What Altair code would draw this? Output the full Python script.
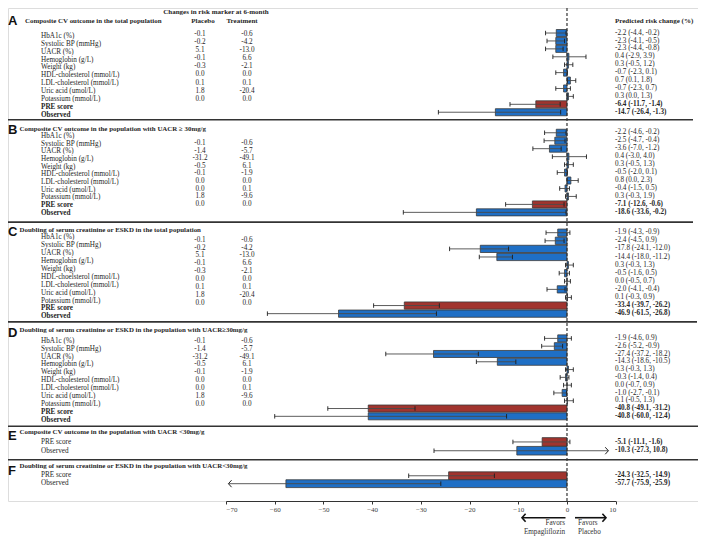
import altair as alt
import pandas as pd

# ---------------- data ----------------
sections = ["A", "B", "C", "D", "E", "F"]
titles = [
    "Composite CV outcome in  the total population",
    "Composite CV outcome in the population with UACR \u2265 30mg/g",
    "Doubling of serum creatinine or ESKD in the total population",
    "Doubling of serum creatinine or ESKD in the population with UACR\u226530mg/g",
    "Composite CV outcome in the population with UACR <30mg/g",
    "Doubling of serum creatinine or ESKD in the population with UACR<30mg/g",
]

labels_A = ["HbA1c (%)", "Systolic BP (mmHg)", "UACR (%)", " Hemoglobin (g/L)", "Weight (kg)",
            "HDL-cholesterol (mmol/L)", "LDL-cholesterol (mmol/L)", "Uric acid (umol/L)",
            "Potassium (mmol/L)", "PRE score", "Observed"]
labels_B = ["HbA1c (%)", "Systolic BP (mmHg)", "UACR (%)", "Hemoglobin (g/L)", "Weight (kg)",
            "HDL-cholesterol (mmol/L)", "LDL-cholesterol (mmol/L)", "Uric acid (umol/L)",
            "Potassium (mmol/L)", "PRE score", "Observed"]
labels_C = ["HbA1c (%)", "Systolic BP (mmHg)", "UACR (%)", "Hemoglobin (g/L)", "Weight (kg)",
            "HDL-choelsterol (mmol/L)", "LDL-cholesterol (mmol/L)", "Uric acid (umol/L)",
            "Potassium (mmol/L)", "PRE score", "Observed"]
labels_D = labels_B
labels_E = ["PRE score", "Observed"]
labels_F = ["PRE score", "Observed"]

placebo_A = ["-0.1", "-0.2", "5.1", "-0.1", "-0.3", "0.0", "0.1", "1.8", "0.0"]
treatment_A = ["-0.6", "-4.2", "-13.0", "6.6", "-2.1", "0.0", "0.1", "-20.4", "0.0"]
placebo_B = ["-0.1", "-1.4", "-31.2", "-0.5", "-0.1", "0.0", "0.0", "1.8", "0.0"]
treatment_B = ["-0.6", "-5.7", "-49.1", "6.1", "-1.9", "0.0", "0.1", "-9.6", "0.0"]
placebo_C = ["-0.1", "-0.2", "5.1", "-0.1", "-0.3", "0.0", "0.1", "1.8", "0.0"]
treatment_C = ["-0.6", "-4.2", "-13.0", "6.6", "-2.1", "0.0", "0.1", "-20.4", "0.0"]
placebo_D = ["-0.1", "-1.4", "-31.2", "-0.5", "-0.1", "0.0", "0.0", "1.8", "0.0"]
treatment_D = ["-0.6", "-5.7", "-49.1", "6.1", "-1.9", "0.0", "0.1", "-9.6", "0.0"]

est_A = [-2.2, -2.3, -2.3, 0.4, 0.3, -0.7, 0.7, -0.7, 0.3, -6.4, -14.7]
lo_A = [-4.4, -4.1, -4.4, -2.9, -0.5, -2.3, 0.1, -2.3, 0.0, -11.7, -26.4]
hi_A = [-0.2, -0.5, -0.8, 3.9, 1.2, 0.1, 1.8, 0.7, 1.3, -1.4, -1.3]
ci_A = ["-2.2 (-4.4, -0.2)", "-2.3 (-4.1, -0.5)", "-2.3 (-4.4, -0.8)", "0.4 (-2.9, 3.9)",
        "0.3 (-0.5, 1.2)", "-0.7 (-2.3, 0.1)", "0.7 (0.1, 1.8)", "-0.7 (-2.3, 0.7)",
        "0.3 (0.0, 1.3)", "-6.4 (-11.7, -1.4)", "-14.7 (-26.4, -1.3)"]

est_B = [-2.2, -2.5, -3.6, 0.4, 0.3, -0.5, 0.8, -0.4, 0.3, -7.1, -18.6]
lo_B = [-4.6, -4.7, -7.0, -3.0, -0.5, -2.0, 0.0, -1.5, -0.3, -12.6, -33.6]
hi_B = [-0.2, -0.4, -1.2, 4.0, 1.3, 0.1, 2.3, 0.5, 1.9, -0.6, -0.2]
ci_B = ["-2.2 (-4.6, -0.2)", "-2.5 (-4.7, -0.4)", "-3.6 (-7.0, -1.2)", "0.4 (-3.0, 4.0)",
        "0.3 (-0.5, 1.3)", "-0.5 (-2.0, 0.1)", "0.8 (0.0, 2.3)", "-0.4 (-1.5, 0.5)",
        "0.3 (-0.3, 1.9)", "-7.1 (-12.6, -0.6)", "-18.6 (-33.6, -0.2)"]

est_C = [-1.9, -2.4, -17.8, -14.4, 0.3, -0.5, 0.0, -2.0, 0.1, -33.4, -46.9]
lo_C = [-4.3, -4.5, -24.1, -18.0, -0.3, -1.6, -0.5, -4.1, -0.3, -39.7, -61.5]
hi_C = [0.6, -0.6, -12.0, -11.2, 1.3, 0.5, 0.7, -0.4, 0.9, -26.2, -26.8]
ci_C = ["-1.9 (-4.3, -0.9)", "-2.4 (-4.5, 0.9)", "-17.8 (-24.1, -12.0)", "-14.4 (-18.0, -11.2)",
        "0.3 (-0.3, 1.3)", "-0.5 (-1.6, 0.5)", "0.0 (-0.5, 0.7)", "-2.0 (-4.1, -0.4)",
        "0.1 (-0.3, 0.9)", "-33.4 (-39.7, -26.2)", "-46.9 (-61.5, -26.8)"]

est_D = [-1.9, -2.6, -27.4, -14.3, 0.3, -0.3, 0.0, -1.0, 0.1, -40.8, -40.8]
lo_D = [-4.6, -5.2, -37.2, -18.6, -0.3, -1.4, -0.7, -2.7, -0.5, -49.1, -60.0]
hi_D = [0.9, -0.9, -18.2, -10.5, 1.3, 0.4, 0.9, -0.1, 1.3, -31.2, -12.4]
ci_D = ["-1.9 (-4.6, 0.9)", "-2.6 (-5.2, -0.9)", "-27.4 (-37.2, -18.2)", "-14.3 (-18.6, -10.5)",
        "0.3 (-0.3, 1.3)", "-0.3 (-1.4, 0.4)", "0.0 (-0.7, 0.9)", "-1.0 (-2.7, -0.1)",
        "0.1 (-0.5, 1.3)", "-40.8 (-49.1, -31.2)", "-40.8 (-60.0, -12.4)"]

est_E = [-5.1, -10.3]
lo_E = [-11.1, -27.3]
hi_E = [0.6, 8.5]          # observed interval runs off the axis (arrow)
ci_E = ["-5.1 (-11.1, -1.6)", "-10.3 (-27.3, 10.8)"]

est_F = [-24.3, -57.7]
lo_F = [-32.5, -69.5]      # observed interval runs off the axis (arrow)
hi_F = [-14.9, -25.9]
ci_F = ["-24.3 (-32.5, -14.9)", "-57.7 (-75.9, -25.9)"]

arrows = {("E", 1): "right", ("F", 1): "left"}
tick_values = [-70, -60, -50, -40, -30, -20, -10, 0, 10]

sec = {
    "A": dict(labels=labels_A, pl=placebo_A, tr=treatment_A, est=est_A, lo=lo_A, hi=hi_A, ci=ci_A),
    "B": dict(labels=labels_B, pl=placebo_B, tr=treatment_B, est=est_B, lo=lo_B, hi=hi_B, ci=ci_B),
    "C": dict(labels=labels_C, pl=placebo_C, tr=treatment_C, est=est_C, lo=lo_C, hi=hi_C, ci=ci_C),
    "D": dict(labels=labels_D, pl=placebo_D, tr=treatment_D, est=est_D, lo=lo_D, hi=hi_D, ci=ci_D),
    "E": dict(labels=labels_E, pl=[], tr=[], est=est_E, lo=lo_E, hi=hi_E, ci=ci_E),
    "F": dict(labels=labels_F, pl=[], tr=[], est=est_F, lo=lo_F, hi=hi_F, ci=ci_F),
}

# ---------------- layout (vertical positions in figure units) ----------------
BAR_ROW0 = {"A": 28.6, "B": 130.6, "C": 232.8, "D": 340.9, "E": 446.8, "F": 481.4}
BAR_STEP = {"A": 8.1, "B": 8.14, "C": 8.28, "D": 7.97, "E": 9.0, "F": 8.1}
BAR_HALF = {"A": 3.6, "B": 3.6, "C": 3.7, "D": 3.6, "E": 4.4, "F": 4.0}
LAB_ROW0 = {"A": 31.7, "B": 134.0, "C": 237.7, "D": 343.3, "E": 447.3, "F": 480.7}
LAB_STEP = {"A": 8.03, "B": 7.83, "C": 8.06, "D": 8.1, "E": 8.7, "F": 8.6}
VAL_ROW0 = {"A": 30.0, "B": 141.0, "C": 240.0, "D": 343.3}
VAL_STEP = {"A": 8.2, "B": 7.8, "C": 8.04, "D": 8.1}
TITLE_Y = {"A": 16.0, "B": 127.0, "C": 230.0, "D": 332.7, "E": 436.7, "F": 471.0}
LETTER_Y = {"A": 16.5, "B": 128.0, "C": 232.0, "D": 335.0, "E": 440.5, "F": 476.5}
SEPARATORS = [(117.3, 685), (222.0, 685), (324.0, 689), (430.7, 690), (465.0, 690)]

W, H, PB = 690, 493, 35
SERIF = "Liberation Serif"
SANS = "Liberation Sans"
TXT = "#262626"
BLUE = "#1f6fc5"
RED = "#a1342e"

xs = alt.Scale(domain=[-70, 10], range=[218, 607.7], nice=False, zero=False)
ys = alt.Scale(domain=[3, 543], range=[0, 528], nice=False, zero=False)
xaxis = alt.Axis(values=tick_values, grid=False, title=None, domainColor="#333", tickColor="#333",
                 tickSize=3, labelFont=SERIF, labelFontSize=7, labelColor="#444", labelPadding=1)


def X(f):
    return alt.X(f, type="quantitative", scale=xs, axis=xaxis)


def Y(f):
    return alt.Y(f, type="quantitative", scale=ys, axis=None)


# ---------------- tables ----------------
rows, labs, vals, caps, heads = [], [], [], [], []
for s in sections:
    d = sec[s]
    n = len(d["est"])
    for i in range(n):
        y = BAR_ROW0[s] + i * BAR_STEP[s]
        kind = "pre" if d["labels"][i] == "PRE score" else "obs"
        bold = s in ("E", "F") or i >= 9
        arrow = arrows.get((s, i), "")
        rows.append(dict(sec=s, est=d["est"][i], lo=d["lo"][i], hi=d["hi"][i], zero=0,
                         txt=d["ci"][i], kind=kind, y=y, y0=y - BAR_HALF[s], y1=y + BAR_HALF[s],
                         c0=y - 2.3, c1=y + 2.3, bold=bold, ty=y - 0.4))
        if arrow != "left":
            caps.append(dict(x=d["lo"][i], c0=y - 2.3, c1=y + 2.3))
        if arrow != "right":
            caps.append(dict(x=d["hi"][i], c0=y - 2.3, c1=y + 2.3))
        if arrow:
            heads.append(dict(x=d["hi"][i] if arrow == "right" else d["lo"][i], y=y, dir=arrow))
        labs.append(dict(txt=d["labels"][i], y=LAB_ROW0[s] + i * LAB_STEP[s],
                         bold=(s not in ("E", "F") and i >= 9)))
    for j, (p, t) in enumerate(zip(d["pl"], d["tr"])):
        vals.append(dict(p=p, t=t, y=VAL_ROW0[s] + j * VAL_STEP[s]))

df = pd.DataFrame(rows)
df_lab = pd.DataFrame(labs)
df_val = pd.DataFrame(vals)
df_cap = pd.DataFrame(caps)
df_head = pd.DataFrame(heads)

layers = []

# bars
layers.append(
    alt.Chart(df).mark_rect(stroke="#3a3a3a", strokeWidth=0.8).encode(
        x=X("est"), x2=alt.X2("zero:Q"), y=Y("y0"), y2=alt.Y2("y1:Q"),
        color=alt.Color("kind:N", scale=alt.Scale(domain=["obs", "pre"], range=[BLUE, RED]), legend=None),
    )
)
# whiskers
layers.append(
    alt.Chart(df).mark_rule(color="#4a4a4a", strokeWidth=0.9).encode(
        x=X("lo"), x2=alt.X2("hi:Q"), y=Y("y"))
)
layers.append(
    alt.Chart(df_cap).mark_rule(color="#1e1e1e", strokeWidth=0.9).encode(
        x=X("x"), y=Y("c0"), y2=alt.Y2("c1:Q"))
)
for direction, path in (("right", "M-0.9,-1L0,0L-0.9,1"), ("left", "M0.9,-1L0,0L0.9,1")):
    layers.append(
        alt.Chart(df_head).transform_filter(alt.datum.dir == direction)
        .mark_point(shape=path, filled=False, size=49, strokeWidth=1, color="#222", opacity=1)
        .encode(x=X("x"), y=Y("y"))
    )

# zero reference line
layers.append(
    alt.Chart(pd.DataFrame({"x": [0]})).mark_rule(color="#333", strokeWidth=1.2, strokeDash=[3, 2]).encode(
        x=X("x"), y=alt.value(0), y2=alt.value(H))
)

# separators
for ysep, x2 in SEPARATORS:
    layers.append(
        alt.Chart(pd.DataFrame({"y": [ysep]})).mark_rule(color="#333", strokeWidth=1.6).encode(
            x=alt.value(0), x2=alt.value(x2), y=Y("y"))
    )


def text_layer(data, x, field, flt=None, **kw):
    base = dict(baseline="middle", font=SERIF, fontSize=7.2, color=TXT)
    base.update(kw)
    ch = alt.Chart(data)
    if flt is not None:
        ch = ch.transform_filter(flt)
    return ch.mark_text(x=x, **base).encode(y=Y("y" if "ty" not in data.columns else "ty"),
                                            text=alt.Text(field + ":N"))


# left labels
layers.append(text_layer(df_lab, 33, "txt", alt.datum.bold == False, align="left"))
layers.append(text_layer(df_lab, 33, "txt", alt.datum.bold == True, align="left", fontWeight="bold"))
# marker changes
layers.append(text_layer(df_val, 192, "p", align="center"))
layers.append(text_layer(df_val, 239, "t", align="center"))
# predicted risk change text
layers.append(text_layer(df, 607, "txt", alt.datum.bold == False, align="left"))
layers.append(text_layer(df, 607, "txt", alt.datum.bold == True, align="left", fontWeight="bold"))

# headers
df_hdr = pd.DataFrame({
    "txt": ["Changes in risk marker at 6-month", "Placebo", "Treatment", "Predicted risk change (%)"],
    "y": [7.5, 16.0, 16.0, 16.0],
    "x": [208, 195, 234, 607],
    "al": ["center", "center", "center", "left"],
})
for _, r in df_hdr.iterrows():
    layers.append(
        alt.Chart(pd.DataFrame({"txt": [r.txt], "y": [r.y]})).mark_text(
            x=r.x, align=r.al, baseline="middle", font=SERIF, fontSize=7, fontWeight="bold", color=TXT
        ).encode(y=Y("y"), text="txt:N")
    )

# section titles and letters
df_title = pd.DataFrame({"txt": titles, "y": [TITLE_Y[s] for s in sections]})
layers.append(text_layer(df_title.iloc[:1], 17, "txt", align="left", fontWeight="bold", fontSize=6.9))
layers.append(text_layer(df_title.iloc[1:], 11.5, "txt", align="left", fontWeight="bold", fontSize=6.9))
df_letter = pd.DataFrame({"txt": sections, "y": [LETTER_Y[s] for s in sections]})
layers.append(text_layer(df_letter, 0, "txt", align="left", font=SANS, fontWeight="bold",
                         fontSize=13, color="#111"))

# favors annotation under the axis
df_fav = pd.DataFrame({"y": [524.3]})
layers.append(alt.Chart(df_fav).mark_rule(color="#111", strokeWidth=1.6).encode(
    x=alt.value(514), x2=alt.value(557.5), y=Y("y")))
layers.append(alt.Chart(df_fav).mark_rule(color="#111", strokeWidth=1.6).encode(
    x=alt.value(567), x2=alt.value(598), y=Y("y")))
layers.append(alt.Chart(df_fav).mark_point(shape="M0.9,-1L0,0L0.9,1", filled=False, size=64,
                                           strokeWidth=1.6, color="#111", opacity=1).encode(
    x=alt.value(514), y=Y("y")))
layers.append(alt.Chart(df_fav).mark_point(shape="M-0.9,-1L0,0L-0.9,1", filled=False, size=64,
                                           strokeWidth=1.6, color="#111", opacity=1).encode(
    x=alt.value(598), y=Y("y")))
df_fl = pd.DataFrame({"txt": ["Favors", "Empagliflozin"], "y": [530.0, 539.3]})
df_fr = pd.DataFrame({"txt": ["Favors", "Placebo"], "y": [530.0, 539.3]})
layers.append(text_layer(df_fl, 557, "txt", align="right", color="#333"))
layers.append(text_layer(df_fr, 570, "txt", align="left", color="#333"))

chart = alt.layer(*layers).properties(
    width=W, height=H,
    autosize=alt.AutoSizeParams(type="none"),
    padding={"left": 0, "top": 0, "right": 0, "bottom": PB},
).configure_view(stroke=None).configure(background="white")

chart.save("out.html", embed_options={"renderer": "svg", "actions": False})
